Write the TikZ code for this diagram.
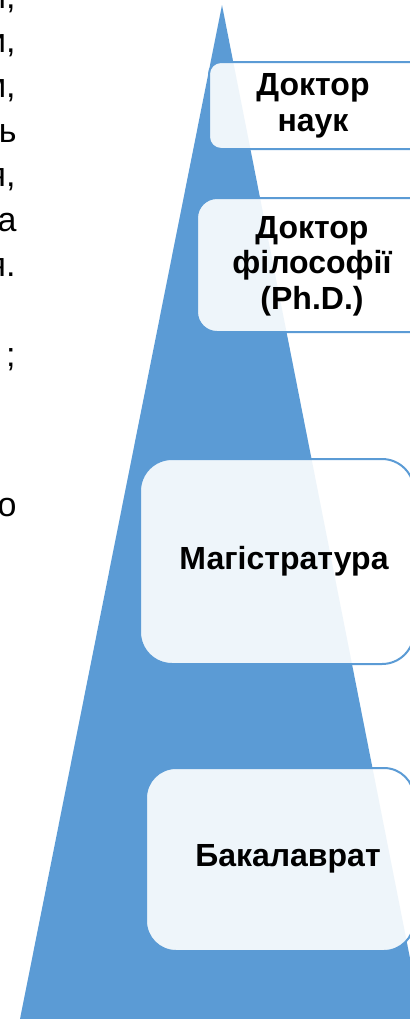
\documentclass[tikz,border=0pt]{standalone}
\usepackage{fontspec}
\setmainfont{Liberation Sans}
\definecolor{pyrblue}{HTML}{5B9BD5}
\tikzset{
  lvlbox/.style={draw=pyrblue,line width=1pt,fill=white,fill opacity=0.9},
  lvltext/.style={font=\fontsize{16}{17.8}\selectfont\bfseries,align=center,inner sep=0pt},
  cuttext/.style={font=\fontsize{17}{20}\selectfont,anchor=base east,inner sep=0pt}
}
\begin{document}
\begin{tikzpicture}[x=0.5pt,y=-0.5pt]
\useasboundingbox (0,0) rectangle (410,1019);
\clip (0,0) rectangle (410,1019);
\fill[pyrblue] (222,5) -- (422,1019) -- (20,1019) -- cycle;
\filldraw[lvlbox,rounded corners=6pt] (209,62) rectangle (440,149);
\filldraw[lvlbox,rounded corners=10pt] (197,198) rectangle (440,332);
\filldraw[lvlbox,rounded corners=16pt] (140,459) rectangle (414,664);
\filldraw[lvlbox,rounded corners=15pt] (146,768) rectangle (414,951);
\node (drnauk) at (313,106) [lvltext] {Доктор\\наук};
\node (phd) at (312,266) [lvltext] {Доктор\\філософії\\(Ph.D.)};
\node (magistr) at (284,561) [lvltext] {Магістратура};
\node (bakalavr) at (288,859) [lvltext] {Бакалаврат};
\node (cut1) at (16,8) [cuttext] {и,};
\node (cut2) at (16,52.6) [cuttext] {и,};
\node (cut3) at (16,97) [cuttext] {м,};
\node (cut4) at (17,142) [cuttext] {ь};
\node (cut5) at (16,186) [cuttext] {я,};
\node (cut6) at (17,231) [cuttext] {а};
\node (cut7) at (16,276) [cuttext] {я.};
\node (cut8) at (16,366) [cuttext] {;};
\node (cut9) at (17,516) [cuttext] {о};
\end{tikzpicture}
\end{document}
